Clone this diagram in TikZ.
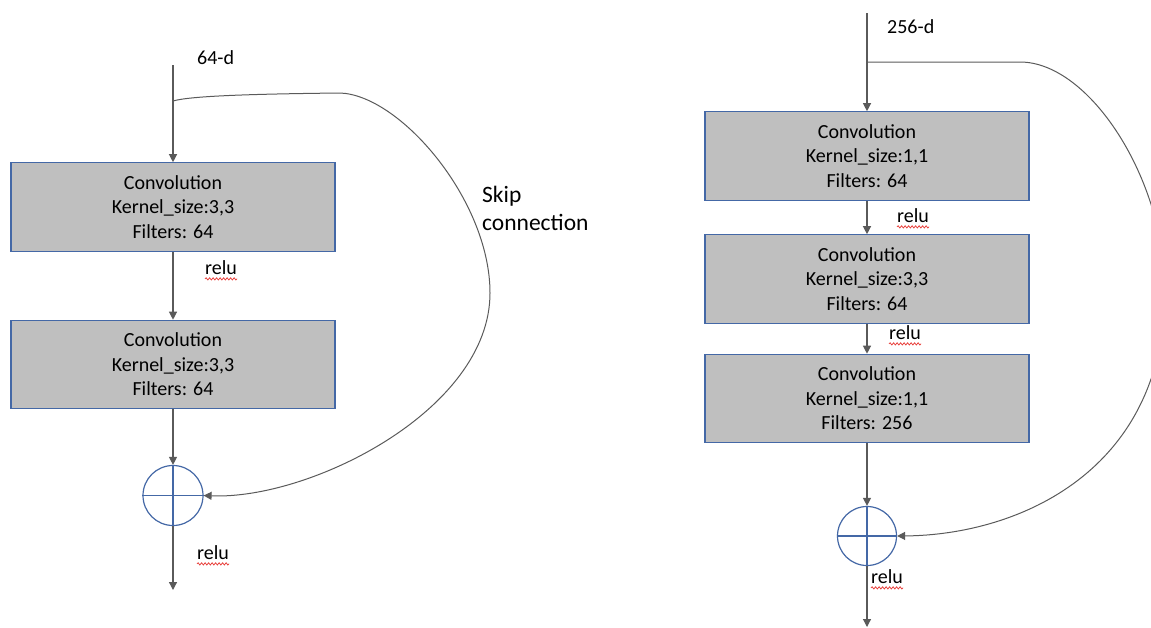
\documentclass[tikz,border=0pt]{standalone}
\usepackage{fontspec}
\setmainfont{Carlito}
\usetikzlibrary{arrows.meta,decorations.pathmorphing}
\definecolor{boxfill}{HTML}{BFBFBF}
\definecolor{boxline}{HTML}{4468A6}
\definecolor{wire}{HTML}{5A5A5A}
\definecolor{squiggle}{HTML}{E8403C}

\begin{document}
\begin{tikzpicture}[x=1pt,y=-1pt,
  convbox/.style={draw=boxline, fill=boxfill, line width=1.1pt, minimum width=324pt,
    minimum height=88.5pt, inner sep=0pt, align=center, font=\fontsize{20}{24.5}\selectfont},
  sumnode/.style={circle, draw=boxline, line width=1.2pt, minimum size=60pt, inner sep=0pt},
  flow/.style={draw=wire, line width=1.2pt, -{Triangle[length=8pt,width=8pt]}},
  skipline/.style={draw=wire, line width=1pt, -{Triangle[length=8pt,width=8pt]}},
  lbl/.style={font=\fontsize{20}{24}\selectfont, inner sep=0pt, anchor=west},
  wavy/.style={draw=squiggle, line width=0.8pt, decorate,
    decoration={snake, amplitude=1.1pt, segment length=3.5pt}}
]
\useasboundingbox (0,0) rectangle (1151,627);

% ---------- basic residual block ----------
\coordinate (inL) at (173,65);
\coordinate (brL) at (173,101);
\coordinate (outL) at (173,590);
\node[convbox] (l1) at (173,207) {Convolution\\Kernel\_size:3,3\\Filters: 64};
\node[convbox] (l2) at (173,364.5) {Convolution\\Kernel\_size:3,3\\Filters: 64};
\node[sumnode] (sl) at (173,495.5) {};
\draw[boxline, line width=1.3pt] (sl.north) -- (sl.south) (sl.west) -- (sl.east);

\draw[flow] (inL) -- (l1.north);
\draw[flow] (l1.south) -- (l2.north);
\draw[flow] (l2.south) -- (sl.north);
\draw[flow] (sl.south) -- (outL);
\draw[skipline] (brL) .. controls (190,96) and (250,94) .. (340,93)
  .. controls (400,95) and (490,200) .. (490,293)
  .. controls (490,410) and (310,500) .. (sl.east);

\node[lbl] (dl) at (197,58) {64-d};
\node[lbl] (rl1) at (205,268) {relu};
\node[lbl] (rl2) at (197,553) {relu};
\draw[wavy] ([yshift=-4pt]rl1.base west) -- ([yshift=-4pt]rl1.base east);
\draw[wavy] ([yshift=-4pt]rl2.base west) -- ([yshift=-4pt]rl2.base east);
\node[lbl, anchor=north west, align=left, font=\fontsize{23.5}{28}\selectfont]
  (skiptxt) at (482,186) {Skip\\connection};

% ---------- bottleneck block ----------
\coordinate (inR) at (867,13);
\coordinate (brR) at (867,62);
\coordinate (outR) at (867,627);
\node[convbox] (r1) at (867,156) {Convolution\\Kernel\_size:1,1\\Filters: 64};
\node[convbox] (r2) at (867,279) {Convolution\\Kernel\_size:3,3\\Filters: 64};
\node[convbox] (r3) at (867,398.5) {Convolution\\Kernel\_size:1,1\\Filters: 256};
\node[sumnode, minimum size=59pt] (sr) at (867,536) {};
\draw[boxline, line width=1.3pt] (sr.north) -- (sr.south) (sr.west) -- (sr.east);

\draw[flow] (inR) -- (r1.north);
\draw[flow] (r1.south) -- (r2.north);
\draw[flow] (r2.south) -- (r3.north);
\draw[flow] (r3.south) -- (sr.north);
\draw[flow] (sr.south) -- (outR);
\draw[skipline] (brR) -- (1020,62)
  .. controls (1090,62) and (1165,180) .. (1165,290)
  .. controls (1165,470) and (1020,535) .. (sr.east);

\node[lbl] (dr) at (887,27) {256-d};
\node[lbl] (rr1) at (897,216) {relu};
\node[lbl] (rr2) at (889,333) {relu};
\node[lbl] (rr3) at (871,577) {relu};
\draw[wavy] ([yshift=-4pt]rr1.base west) -- ([yshift=-4pt]rr1.base east);
\draw[wavy] ([yshift=-4pt]rr2.base west) -- ([yshift=-4pt]rr2.base east);
\draw[wavy] ([yshift=-4pt]rr3.base west) -- ([yshift=-4pt]rr3.base east);
\end{tikzpicture}
\end{document}
